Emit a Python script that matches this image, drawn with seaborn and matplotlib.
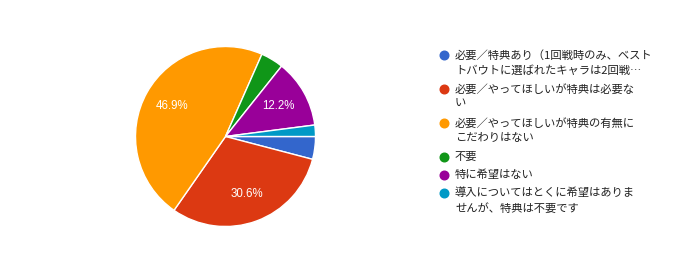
import matplotlib
matplotlib.use("Agg")
import matplotlib.pyplot as plt
import seaborn as sns
from matplotlib.lines import Line2D

sns.set_theme(style="white")
plt.rcParams['font.family'] = ['Noto Sans CJK JP', 'DejaVu Sans']

labels = [
    "必要／特典あり（1回戦時のみ、ベスト\nトバウトに選ばれたキャラは2回戦…",
    "必要／やってほしいが特典は必要な\nい",
    "必要／やってほしいが特典の有無に\nこだわりはない",
    "不要",
    "特に希望はない",
    "導入についてはとくに希望はありま\nせんが、特典は不要です",
]
counts = [2, 15, 23, 2, 6, 1]
colors = ["#3366cc", "#dc3912", "#ff9900", "#109618", "#990099", "#0099c6"]

W, H = 676, 265
fig = plt.figure(figsize=(W / 100, H / 100), dpi=100)
fig.patch.set_facecolor("white")

cx, cy, r = 225.5, 136.5, 90
ax = fig.add_axes([(cx - r) / W, 1 - (cy + r) / H, 2 * r / W, 2 * r / H])

def fmt(p):
    return f"{p:.1f}%" if p >= 5 else ""

wedges, texts, autotexts = ax.pie(
    counts, colors=colors, startangle=0, counterclock=False,
    autopct=fmt, pctdistance=0.68,
    wedgeprops=dict(edgecolor="white", linewidth=1),
    textprops=dict(color="white", fontsize=8.3, family=["Liberation Sans", "DejaVu Sans"]),
)
ax.set_aspect("equal")
ax.set_xlim(-1, 1)
ax.set_ylim(-1, 1)
ax.axis("off")

# legend drawn manually
row_y = [55, 89, 123, 157, 175, 193]
line_h = 15
for lab, col, y in zip(labels, colors, row_y):
    fig.add_artist(Line2D([444 / W], [1 - y / H], transform=fig.transFigure,
                          marker="o", markersize=6.2, color=col, linestyle="none"))
    for i, line in enumerate(lab.split("\n")):
        fig.text(455 / W, 1 - (y + i * line_h) / H, line, fontsize=8.15,
                 color="#222222", va="center", ha="left")

fig.savefig("out.png", dpi=100, facecolor="white")
